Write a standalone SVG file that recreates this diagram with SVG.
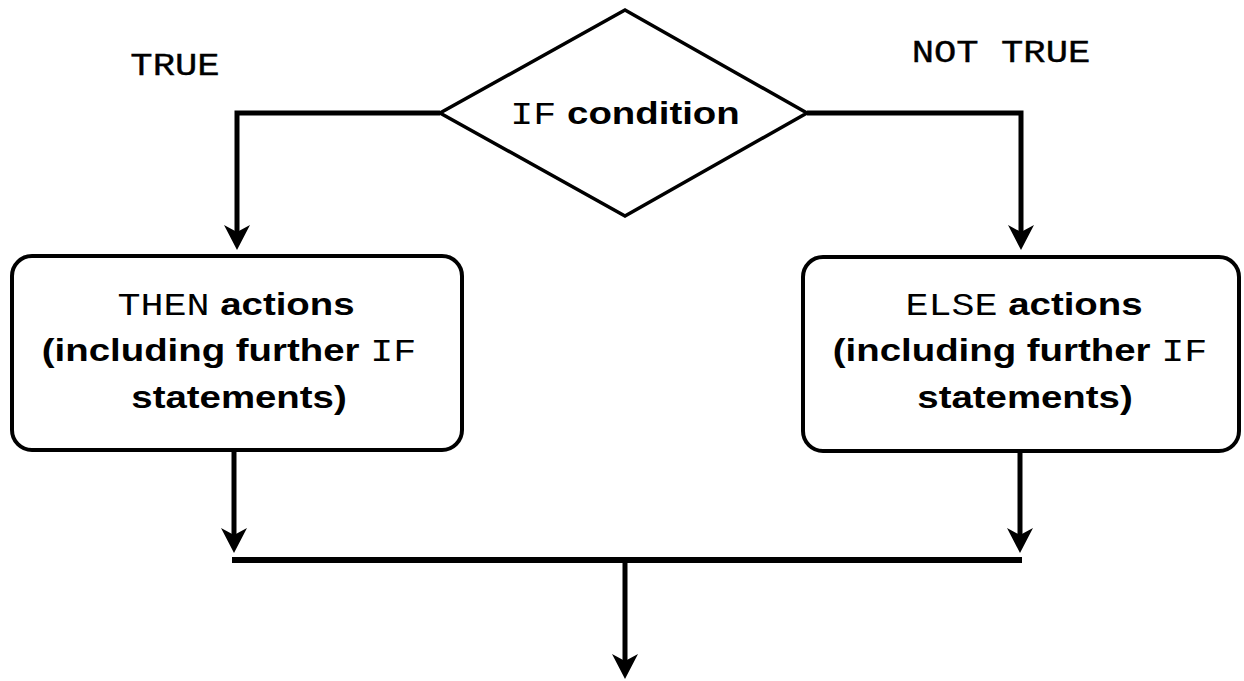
<svg xmlns="http://www.w3.org/2000/svg" width="1244" height="681" viewBox="0 0 1244 681">
  <style>
    .shape { fill: #ffffff; stroke: #000000; stroke-width: 4; }
    .diamond { fill: #ffffff; stroke: #000000; stroke-width: 3.5; }
    .conn { fill: none; stroke: #000000; stroke-width: 5; }
    .bar { fill: none; stroke: #000000; stroke-width: 6; }
    .lbl { font-family: "Liberation Sans", Arial, sans-serif; font-weight: bold; font-size: 32px; fill: #000000; }
    .mono { font-family: "Liberation Mono", "Courier New", monospace; font-weight: normal; }
    .cap { font-family: "Liberation Mono", "Courier New", monospace; font-size: 31px; fill: #000000; stroke: #000000; stroke-width: 0.4; }
  </style>
  <defs>
    <marker id="arrow" markerUnits="userSpaceOnUse" viewBox="-26 -14 28 28" markerWidth="28" markerHeight="28" refX="-16" refY="0" orient="auto">
      <path d="M0,0 L-25,-13 L-18,0 L-25,13 Z" fill="#000000"/>
    </marker>
  </defs>
  <rect x="0" y="0" width="1244" height="681" fill="#ffffff"/>

  <g id="connectors">
    <path class="conn" d="M440,113 H237 V234" marker-end="url(#arrow)"/>
    <path class="conn" d="M807,113 H1021 V234" marker-end="url(#arrow)"/>
    <path class="conn" d="M234,451 V537" marker-end="url(#arrow)"/>
    <path class="conn" d="M1020,451 V537" marker-end="url(#arrow)"/>
    <path class="bar" d="M232,560 H1022"/>
    <path class="conn" d="M625,560 V663" marker-end="url(#arrow)"/>
  </g>

  <g id="label-true">
    <text class="cap" transform="translate(175,0) scale(1.2,1)" x="0" y="75" text-anchor="middle">TRUE</text>
  </g>
  <g id="label-not-true">
    <text class="cap" transform="translate(1001,0) scale(1.2,1)" x="0" y="62" text-anchor="middle">NOT TRUE</text>
  </g>

  <g id="if-condition">
    <polygon class="diamond" points="625,10 807,113 625,216 440,113"/>
    <text class="lbl" transform="translate(625,0) scale(1.2,1)" x="0" y="124" text-anchor="middle"><tspan class="mono">IF</tspan> condition</text>
  </g>

  <g id="then-actions">
    <rect class="shape" x="12" y="256" width="450" height="194" rx="20" ry="20"/>
    <text class="lbl" transform="translate(236,0) scale(1.2,1)" x="0" y="315" text-anchor="middle"><tspan class="mono">THEN</tspan> actions</text>
    <text class="lbl" transform="translate(229,0) scale(1.2,1)" x="0" y="361" text-anchor="middle">(including further <tspan class="mono">IF</tspan></text>
    <text class="lbl" transform="translate(239,0) scale(1.2,1)" x="0" y="408" text-anchor="middle">statements)</text>
  </g>

  <g id="else-actions">
    <rect class="shape" x="803" y="257" width="436" height="194" rx="20" ry="20"/>
    <text class="lbl" transform="translate(1024,0) scale(1.2,1)" x="0" y="315" text-anchor="middle"><tspan class="mono">ELSE</tspan> actions</text>
    <text class="lbl" transform="translate(1020,0) scale(1.2,1)" x="0" y="361" text-anchor="middle">(including further <tspan class="mono">IF</tspan></text>
    <text class="lbl" transform="translate(1025,0) scale(1.2,1)" x="0" y="408" text-anchor="middle">statements)</text>
  </g>
</svg>
